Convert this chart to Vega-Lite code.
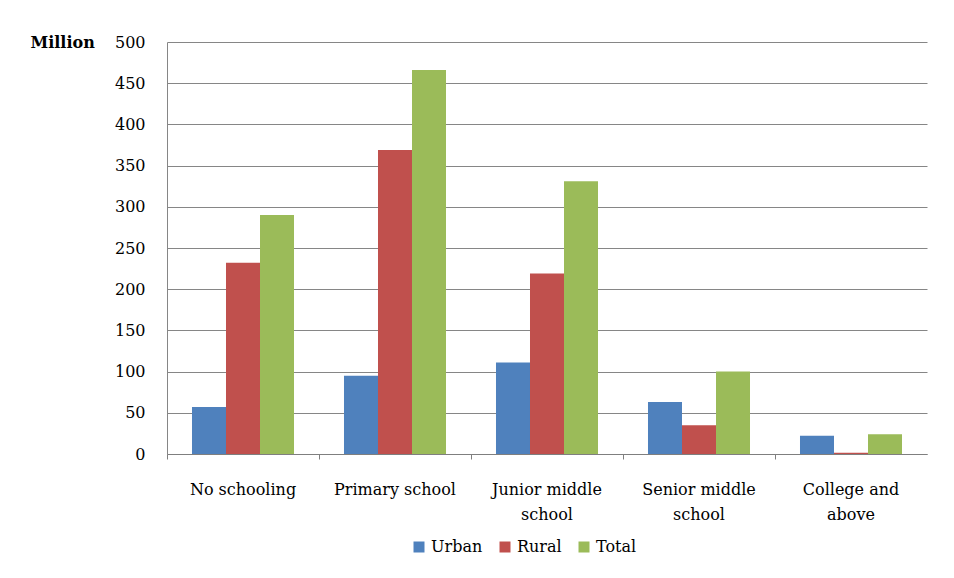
{
  "$schema": "https://vega.github.io/schema/vega-lite/v6.json",
  "width": 760,
  "height": 412,
  "autosize": {"type": "none"},
  "padding": {"left": 167, "top": 42, "right": 27, "bottom": 124},
  "background": "white",
  "data": {
    "values": [
      {"category": "No schooling", "area": "Urban", "value": 57},
      {"category": "No schooling", "area": "Rural", "value": 232},
      {"category": "No schooling", "area": "Total", "value": 290},
      {"category": "Primary school", "area": "Urban", "value": 95},
      {"category": "Primary school", "area": "Rural", "value": 369},
      {"category": "Primary school", "area": "Total", "value": 466},
      {"category": "Junior middle school", "area": "Urban", "value": 111},
      {"category": "Junior middle school", "area": "Rural", "value": 219},
      {"category": "Junior middle school", "area": "Total", "value": 331},
      {"category": "Senior middle school", "area": "Urban", "value": 63},
      {"category": "Senior middle school", "area": "Rural", "value": 35},
      {"category": "Senior middle school", "area": "Total", "value": 100},
      {"category": "College and above", "area": "Urban", "value": 22},
      {"category": "College and above", "area": "Rural", "value": 1.5},
      {"category": "College and above", "area": "Total", "value": 24}
    ]
  },
  "mark": {"type": "bar"},
  "encoding": {
    "x": {
      "field": "category",
      "type": "nominal",
      "sort": null,
      "scale": {"paddingInner": 0, "paddingOuter": 0},
      "axis": {
        "title": null,
        "labelAngle": 0,
        "bandPosition": 0,
        "tickSize": 5,
        "tickColor": "#7f7f7f",
        "domainColor": "#7f7f7f",
        "labelPadding": 22,
        "labelFontSize": 16,
        "labelColor": "#000000",
        "labelLineHeight": 25,
        "labelBaseline": "top",
        "labelExpr": "datum.label == 'Junior middle school' ? ['Junior middle', 'school'] : datum.label == 'Senior middle school' ? ['Senior middle', 'school'] : datum.label == 'College and above' ? ['College and', 'above'] : datum.label",
        "grid": false
      }
    },
    "xOffset": {
      "field": "area",
      "type": "nominal",
      "sort": ["Urban", "Rural", "Total"],
      "scale": {"paddingInner": 0, "paddingOuter": 0.735}
    },
    "y": {
      "field": "value",
      "type": "quantitative",
      "scale": {"domain": [0, 500], "nice": false},
      "axis": {
        "title": "Million",
        "titleAngle": 0,
        "titleAlign": "left",
        "titleBaseline": "middle",
        "titleX": -137,
        "titleY": 0,
        "titleFontSize": 16,
        "titleFontWeight": "bold",
        "titleColor": "#000000",
        "values": [0, 50, 100, 150, 200, 250, 300, 350, 400, 450, 500],
        "ticks": false,
        "labelPadding": 22,
        "labelFontSize": 16,
        "labelColor": "#000000",
        "domainColor": "#868686",
        "gridColor": "#868686",
        "gridWidth": 1
      }
    },
    "color": {
      "field": "area",
      "type": "nominal",
      "scale": {"domain": ["Urban", "Rural", "Total"], "range": ["#4F81BD", "#C0504D", "#9BBB59"]},
      "legend": {
        "title": null,
        "orient": "none",
        "direction": "horizontal",
        "legendX": 244,
        "legendY": 497,
        "symbolType": "square",
        "symbolSize": 121,
        "symbolStrokeWidth": 0,
        "labelFontSize": 16,
        "labelColor": "#000000",
        "labelOffset": 4,
        "columnPadding": 14
      }
    }
  },
  "config": {
    "font": "DejaVu Serif",
    "view": {"stroke": null},
    "axis": {"labelFont": "DejaVu Serif", "titleFont": "DejaVu Serif"},
    "legend": {"labelFont": "DejaVu Serif"}
  }
}
